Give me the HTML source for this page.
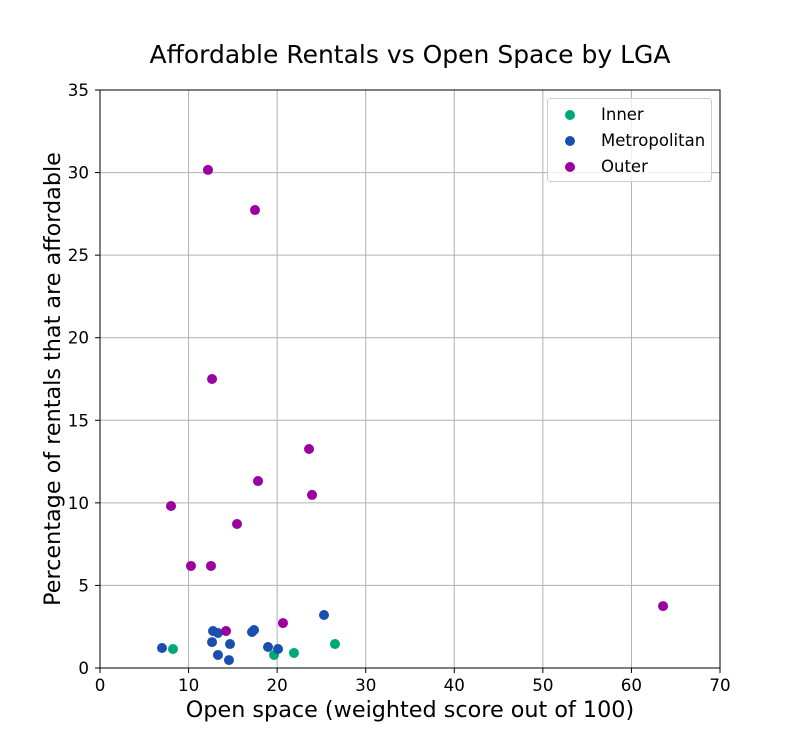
<!DOCTYPE html>
<html><head><meta charset="utf-8"><style>
html,body{margin:0;padding:0;background:#fff;}
svg text{font-family:"DejaVu Sans","Liberation Sans",sans-serif;fill:#000;}
</style></head><body>
<svg id="chart" width="800" height="750" xmlns="http://www.w3.org/2000/svg">
<text x="410" y="63" font-size="25" text-anchor="middle">Affordable Rentals vs Open Space by LGA</text>
<g id="grid"></g>
<g id="ticks"></g>
<g id="points"></g>
<rect x="100" y="90" width="620" height="578" fill="none" stroke="#000" stroke-width="1"/>
<text x="410" y="717" font-size="22.3" text-anchor="middle">Open space (weighted score out of 100)</text>
<text transform="translate(60,379) rotate(-90)" font-size="22.3" text-anchor="middle">Percentage of rentals that are affordable</text>
<g>
<rect x="547.5" y="98.5" width="164" height="83" rx="3" fill="#fff" fill-opacity="0.8" stroke="#ccc"/>
<circle cx="570" cy="115" r="5" fill="#00a878"/>
<text x="601" y="120" font-size="16.5">Inner</text>
<circle cx="570" cy="141" r="5" fill="#1a4fb0"/>
<text x="601" y="146" font-size="16.5">Metropolitan</text>
<circle cx="570" cy="167" r="5" fill="#9a00a0"/>
<text x="601" y="172" font-size="16.5">Outer</text>
</g>
</svg>
<script>
const xTicks=[0,10,20,30,40,50,60,70];
const yTicks=[0,5,10,15,20,25,30,35];
const innerX=[8.24,19.65,21.9,26.53];
const innerY=[1.15,0.79,0.91,1.45];
const metroX=[7.0,12.76,13.32,12.65,13.32,14.68,14.56,17.16,17.39,18.97,20.1,25.29];
const metroY=[1.21,2.24,2.12,1.57,0.79,1.45,0.48,2.18,2.30,1.27,1.15,3.21];
const outerX=[14.23,20.66,12.19,17.5,12.65,23.6,17.84,23.94,8.02,15.47,10.27,12.53,63.57];
const outerY=[2.24,2.72,30.16,27.73,17.5,13.26,11.32,10.48,9.81,8.72,6.18,6.18,3.75];
const NS='http://www.w3.org/2000/svg';
const sx=v=>100+v*620/70, sy=v=>668-v*578/35;
function mk(tag,attrs,parent){const e=document.createElementNS(NS,tag);for(const k in attrs)e.setAttribute(k,attrs[k]);parent.appendChild(e);return e;}
const grid=document.getElementById('grid'),ticks=document.getElementById('ticks'),pts=document.getElementById('points');
xTicks.forEach(t=>{
 const l=mk('line',{x1:sx(t),x2:sx(t),y1:90,y2:668,stroke:'#b0b0b0','stroke-width':1},grid);
 
 
 const k=mk('line',{x1:sx(t),x2:sx(t),y1:668,y2:673,stroke:'#000'},ticks);
 
 
 const tx=mk('text',{x:sx(t),y:691,'font-size':16.7,'text-anchor':'middle'},ticks);tx.textContent=t;
 
 
});
yTicks.forEach(t=>{
 const l=mk('line',{x1:100,x2:720,y1:sy(t),y2:sy(t),stroke:'#b0b0b0','stroke-width':1},grid);
 
 
 const k=mk('line',{x1:95,x2:100,y1:sy(t),y2:sy(t),stroke:'#000'},ticks);
 
 
 const tx=mk('text',{x:89,y:sy(t)+6,'font-size':16.7,'text-anchor':'end'},ticks);tx.textContent=t;
 
 
});
function series(xs,ys,color,name){
 xs.forEach((x,i)=>{
  const c=mk('circle',{cx:sx(x),cy:sy(ys[i]),r:5,fill:color},pts);
  
  
 });
}
series(innerX,innerY,'#00a878','point-inner');
series(metroX,metroY,'#1a4fb0','point-metropolitan');
series(outerX,outerY,'#9a00a0','point-outer');
</script>
</body></html>
